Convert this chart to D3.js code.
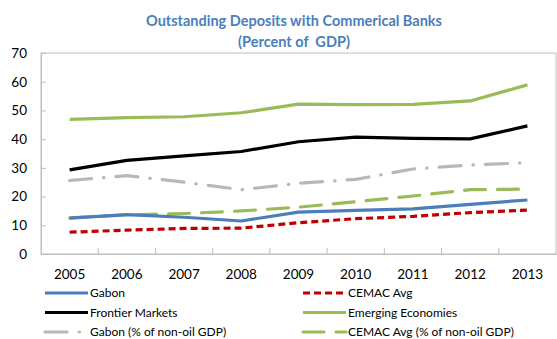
<!DOCTYPE html>
<html>
<head>
<meta charset="utf-8">
<script src="https://cdn.jsdelivr.net/npm/d3@7"></script>
<style>
  html, body { margin: 0; padding: 0; background: #fff; }
  svg { display: block; font-family: Lato, "Open Sans", sans-serif; }
</style>
</head>
<body>
<svg id="chart" width="557" height="339"></svg>
<script>
// Deposits with commercial banks, percent of GDP
const years = ["2005", "2006", "2007", "2008", "2009", "2010", "2011", "2012", "2013"];
const gabon        = [12.5, 13.7, 12.8, 11.5, 14.6, 15.2, 15.7, 17.3, 18.8];
const cemacAvg     = [7.6, 8.3, 8.9, 9.0, 10.9, 12.3, 13.1, 14.4, 15.3];
const frontier     = [29.3, 32.6, 34.2, 35.7, 39.1, 40.7, 40.3, 40.1, 44.6];
const emerging     = [46.9, 47.5, 47.8, 49.2, 52.2, 52.0, 52.1, 53.3, 58.9];
const gabonNonOil  = [25.6, 27.3, 25.0, 22.4, 24.6, 26.0, 29.6, 31.0, 31.8];
const cemacNonOil  = [12.6, 13.6, 14.1, 15.0, 16.3, 18.2, 20.2, 22.4, 22.6];
const yTicks = [0, 10, 20, 30, 40, 50, 60, 70];

const series = [
  { name: "Gabon", values: gabon, color: "#4a7ebb", dash: null, cap: "butt" },
  { name: "CEMAC Avg", values: cemacAvg, color: "#c00000", dash: "7,4", cap: "butt" },
  { name: "Frontier Markets", values: frontier, color: "#000000", dash: null, cap: "butt" },
  { name: "Emerging Economies", values: emerging, color: "#9bbb59", dash: null, cap: "butt" },
  { name: "Gabon (% of non-oil GDP)", values: gabonNonOil, color: "#b8b8b8", dash: "22,12,0.5,12", cap: "round" },
  { name: "CEMAC Avg (% of non-oil GDP)", values: cemacNonOil, color: "#9bbb59", dash: "21,12", cap: "round" }
];

const svg = d3.select("#chart");
const plot = { left: 41, right: 556, top: 53, bottom: 254 };

const x = d3.scaleBand().domain(years).range([plot.left, plot.right]).padding(0);
const y = d3.scaleLinear().domain([0, 70]).range([plot.bottom, plot.top]);
const cx = d => x(d) + x.bandwidth() / 2;

// Title
const title = svg.append("g")
  .attr("fill", "#4a7ebb")
  .attr("font-weight", "bold")
  .attr("font-size", 14.5)
  .attr("text-anchor", "middle");
title.append("text").attr("x", 294).attr("y", 26).text("Outstanding Deposits with Commerical Banks");
title.append("text").attr("x", 294).attr("y", 47).attr("xml:space", "preserve").text("(Percent of  GDP)");

// Plot frame
svg.append("rect")
  .attr("x", plot.left).attr("y", plot.top)
  .attr("width", plot.right - plot.left).attr("height", plot.bottom - plot.top)
  .attr("fill", "none").attr("stroke", "#bfbfbf").attr("stroke-width", 1);

// Y axis: inward ticks, labels on the left
const yAxis = svg.append("g").attr("transform", `translate(${plot.left},0)`)
  .call(d3.axisLeft(y).tickValues(yTicks).tickSize(-5).tickPadding(14).tickFormat(d3.format("d")));
yAxis.select(".domain").attr("stroke", "#bfbfbf");
yAxis.selectAll(".tick line").attr("stroke", "#bfbfbf");
yAxis.selectAll("text").attr("font-size", 13.5).attr("fill", "#000").attr("font-family", "Lato, sans-serif");

// X axis: ticks between categories, pointing into the plot
const xAxis = svg.append("g").attr("transform", `translate(0,${plot.bottom})`)
  .call(d3.axisBottom(x).tickSize(0).tickPadding(15));
xAxis.select(".domain").attr("stroke", "#bfbfbf");
xAxis.selectAll("text").attr("font-size", 13.5).attr("fill", "#000").attr("font-family", "Lato, sans-serif");
xAxis.selectAll(".sep").data(years.slice(1)).enter().append("line")
  .attr("class", "sep")
  .attr("x1", d => x(d)).attr("x2", d => x(d))
  .attr("y1", 0).attr("y2", -6)
  .attr("stroke", "#bfbfbf");

// Series lines (drawn back to front)
const line = d3.line().x((v, i) => cx(years[i])).y(v => y(v)).curve(d3.curveLinear);
const drawOrder = [3, 2, 4, 5, 0, 1];
svg.append("g").selectAll("path").data(drawOrder.map(i => series[i])).enter().append("path")
  .attr("d", s => line(s.values))
  .attr("fill", "none")
  .attr("stroke", s => s.color)
  .attr("stroke-width", 3.2)
  .attr("stroke-linejoin", "round")
  .attr("stroke-linecap", s => s.cap)
  .attr("stroke-dasharray", s => s.dash);

// Legend: two columns, three rows
const legendCols = [45, 303];
const legendRows = [293, 312.5, 332];
const legend = svg.append("g");
series.forEach((s, i) => {
  const col = i % 2, row = Math.floor(i / 2);
  const lx = legendCols[col], ly = legendRows[row];
  legend.append("line")
    .attr("x1", lx).attr("x2", lx + 43)
    .attr("y1", ly).attr("y2", ly)
    .attr("stroke", s.color).attr("stroke-width", 3.2)
    .attr("stroke-linecap", s.cap)
    .attr("stroke-dasharray", s.dash);
  legend.append("text")
    .attr("x", lx + 45).attr("y", ly)
    .attr("dy", "0.35em")
    .attr("font-size", 12)
    .attr("fill", "#000")
    .text(s.name);
});
</script>
</body>
</html>
